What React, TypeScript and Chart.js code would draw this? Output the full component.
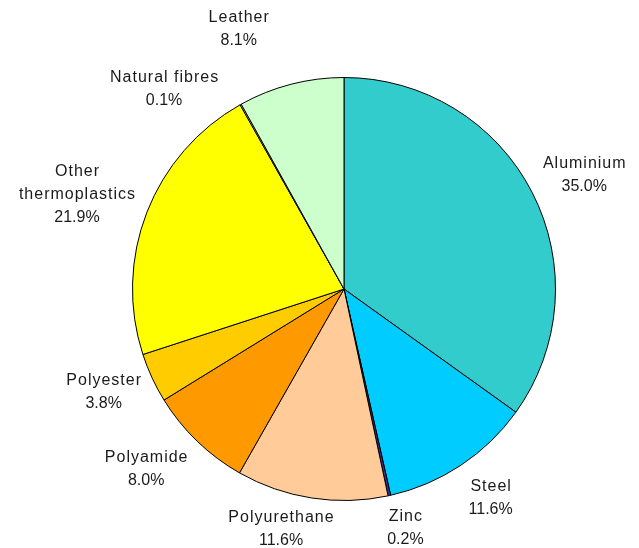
import React, { useEffect, useRef } from "react";
import { Chart, registerables } from "chart.js";

Chart.register(...registerables);

const categories = [
  "Aluminium",
  "Steel",
  "Zinc",
  "Polyurethane",
  "Polyamide",
  "Polyester",
  "Other thermoplastics",
  "Natural fibres",
  "Leather",
];
const shares = [35.0, 11.6, 0.2, 11.6, 8.0, 3.8, 21.9, 0.1, 8.1];
const labelLines = [
  ["Aluminium"],
  ["Steel"],
  ["Zinc"],
  ["Polyurethane"],
  ["Polyamide"],
  ["Polyester"],
  ["Other", "thermoplastics"],
  ["Natural fibres"],
  ["Leather"],
];
const colors = [
  "#33CCCC",
  "#00CCFF",
  "#333399",
  "#FFCC99",
  "#FF9900",
  "#FFCC00",
  "#FFFF00",
  "#FFFFCC",
  "#CCFFCC",
];
// small nudges so labels sit where the original layout placed them
const labelNudges = [
  [6, -2],
  [12, 5],
  [10, 0],
  [-21, -2],
  [-15, 4],
  [-5, 0],
  [-6, -2],
  [-45, 13],
  [-42, -23],
];

const FONT = '16px "Liberation Sans", Arial, sans-serif';
const LINE_H = 23;

const labelPlugin = {
  id: "outsideLabels",
  afterDatasetsDraw(chart: any) {
    const ctx = chart.ctx;
    const meta = chart.getDatasetMeta(0);
    ctx.save();
    ctx.font = FONT;
    ctx.fillStyle = "#1a1a1a";
    ctx.textAlign = "center";
    ctx.textBaseline = "middle";
    meta.data.forEach((arc: any, i: number) => {
      const { x, y, startAngle, endAngle, outerRadius } = arc.getProps(
        ["x", "y", "startAngle", "endAngle", "outerRadius"],
        true
      );
      const mid = (startAngle + endAngle) / 2;
      const dx = Math.cos(mid);
      const dy = Math.sin(mid);
      const r = outerRadius + 10;
      const ax = x + dx * r;
      const ay = y + dy * r;
      const pct = shares[i].toFixed(1) + "%";
      const names = labelLines[i];
      (ctx as any).letterSpacing = "1px";
      const nameW = names.map((l) => ctx.measureText(l).width);
      (ctx as any).letterSpacing = "0px";
      const pctW = ctx.measureText(pct).width;
      const w = Math.max(pctW, ...nameW);
      const n = names.length + 1;
      const h = n * LINE_H;
      const cx = ax + (dx * w) / 2 + labelNudges[i][0];
      const cy = ay + (dy * h) / 2 + labelNudges[i][1];
      const top = cy - h / 2 + LINE_H / 2;
      (ctx as any).letterSpacing = "1px";
      names.forEach((l, k) => {
        ctx.fillText(l, cx + 0.5, top + k * LINE_H);
      });
      (ctx as any).letterSpacing = "0px";
      ctx.fillText(pct, cx, top + names.length * LINE_H);
    });
    ctx.restore();
  },
};

export default function App() {
  const ref = useRef<HTMLCanvasElement>(null);
  useEffect(() => {
    document.body.style.margin = "0";
    const chart = new Chart(ref.current!, {
      type: "pie",
      data: {
        labels: categories,
        datasets: [
          {
            data: shares,
            backgroundColor: colors,
            borderColor: "#000000",
            borderWidth: 1,
          },
        ],
      },
      options: {
        animation: false,
        responsive: false,
        maintainAspectRatio: false,
        layout: { padding: { left: 132, right: 83, top: 77, bottom: 47 } },
        plugins: {
          legend: { display: false },
          tooltip: { enabled: false },
        },
      },
      plugins: [labelPlugin],
    });
    return () => chart.destroy();
  }, []);
  return (
    <div style={{ width: 639, height: 548, background: "#fff" }}>
      <canvas ref={ref} width={639} height={548} />
    </div>
  );
}
